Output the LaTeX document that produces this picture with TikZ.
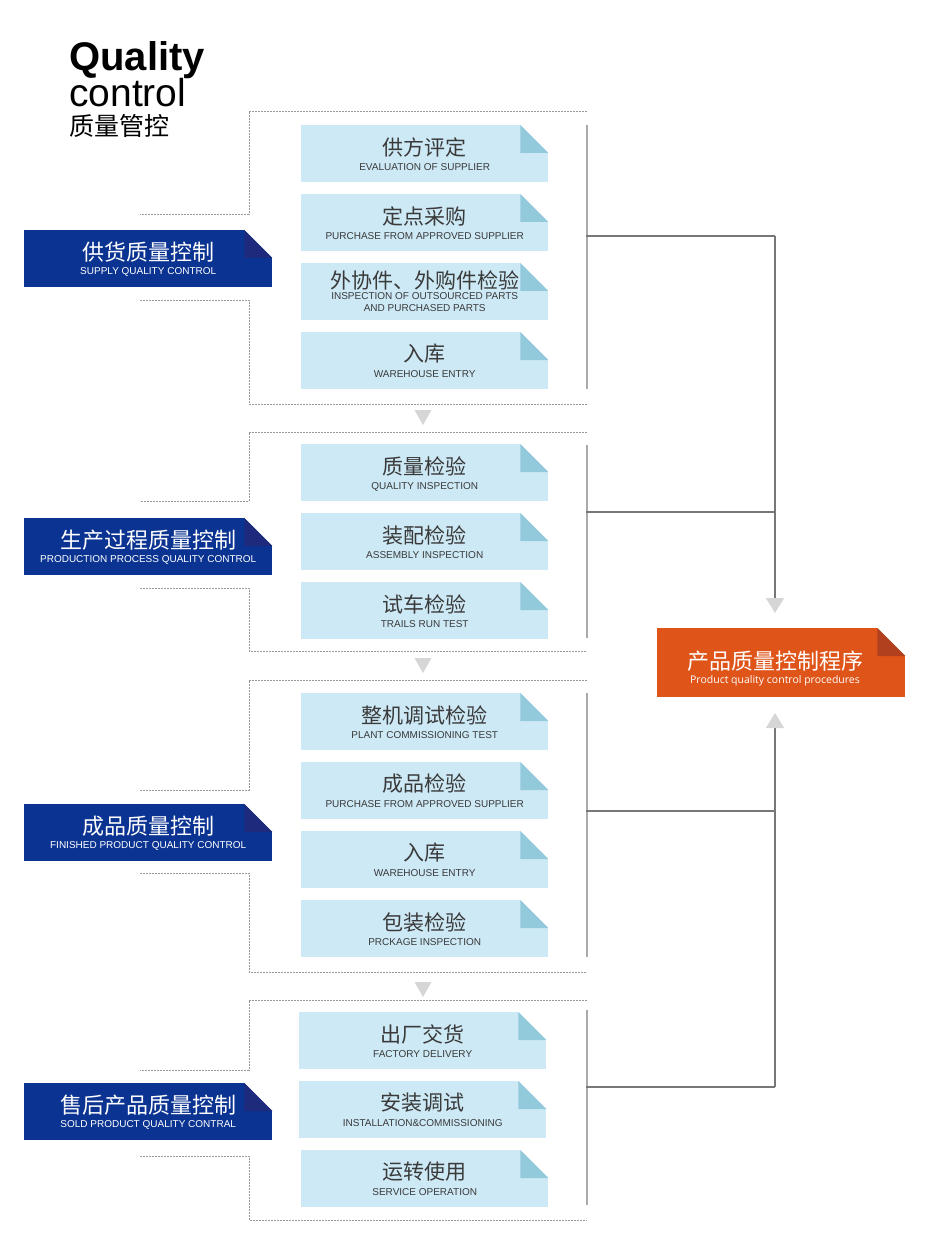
\documentclass[tikz,border=0pt]{standalone}
\usepackage{fontspec}
\setmainfont{Liberation Sans}
\newfontfamily\cjk{Noto Sans CJK SC}
\newfontfamily\osans{Open Sans}
\usetikzlibrary{calc,arrows.meta}
\definecolor{lb}{HTML}{CDE9F5}
\definecolor{lbf}{HTML}{93CADB}
\definecolor{db}{HTML}{0B3391}
\definecolor{dbf}{HTML}{1E2A7C}
\definecolor{og}{HTML}{DF5419}
\definecolor{ogf}{HTML}{B0401E}
\definecolor{tx}{HTML}{3A3A3A}
\definecolor{dotc}{HTML}{999999}
\definecolor{barc}{HTML}{AAAAAA}
\definecolor{conc}{HTML}{777777}
\definecolor{arrc}{HTML}{D6D6D6}
\tikzset{
  cn/.style={font=\cjk\fontsize{21}{21}\selectfont, text=tx, inner sep=0},
  en/.style={font=\fontsize{10}{12}\selectfont, text=tx, inner sep=0, align=center},
  wcn/.style={font=\cjk\fontsize{22}{22}\selectfont, text=white, inner sep=0},
  wen/.style={font=\fontsize{10}{12}\selectfont, text=white, inner sep=0},
  dotl/.style={draw=dotc, line width=0.9pt, dash pattern=on 2pt off 1pt},
  bar/.style={draw=barc, line width=1.8pt},
  conn/.style={draw=conc, line width=1.1pt},
}
% name, x, y(top), width, height, fill, fold
\newcommand\qcfold[7]{%
  \node[anchor=north west, minimum width=#4pt, minimum height=#5pt, inner sep=0, fill=#6] (#1) at (#2,#3) {};
  \fill[white] ([xshift=-28pt]#1.north east) -- ([xshift=1pt,yshift=1pt]#1.north east) -- ([yshift=-28pt]#1.north east) -- cycle;
  \fill[#7] ([xshift=-28pt]#1.north east) -- ([xshift=-28pt,yshift=-28pt]#1.north east) -- ([yshift=-28pt]#1.north east) -- cycle;
}
% light box: name, x, y, chinese, english
\newcommand\qclight[5]{%
  \qcfold{#1}{#2}{#3}{247}{57}{lb}{lbf}
  \node[cn] (#1c) at ($(#1.north)+(0,22)$) {#4};
  \node[en] (#1e) at ($(#1.north)+(0,42.5)$) {#5};
}
\newcommand\qcblue[5]{%
  \qcfold{#1}{#2}{#3}{248}{57}{db}{dbf}
  \node[wcn] (#1c) at ($(#1.north)+(0,22)$) {#4};
  \node[wen] (#1e) at ($(#1.north)+(0,42)$) {#5};
}
\begin{document}
\begin{tikzpicture}[x=1pt,y=-1pt]
\useasboundingbox[fill=white] (0,0) rectangle (940,1246);

% title
\node[inner sep=0, anchor=base west, font=\bfseries\fontsize{40}{40}\selectfont] (t1) at (69,71) {Quality};
\node[inner sep=0, anchor=base west, font=\fontsize{39}{39}\selectfont] (t2) at (69,107) {control};
\node[inner sep=0, anchor=west, font=\cjk\fontsize{25}{25}\selectfont] (t3) at (69,126) {质量管控};

% dotted brackets
\foreach \ta/\ub/\lb/\bt in {111/214/300/404, 432/501/588/651, 680/790/873/972, 1000/1070/1156/1220}{
  \draw[dotl] (587,\ta) -- (249,\ta) -- (249,\ub) -- (140,\ub);
  \draw[dotl] (140,\lb) -- (249,\lb) -- (249,\bt) -- (587,\bt);
}

% group 1
\qclight{b11}{301}{125}{供方评定}{EVALUATION OF SUPPLIER}
\qclight{b12}{301}{194}{定点采购}{PURCHASE FROM APPROVED SUPPLIER}
\qcfold{b13}{301}{263}{247}{57}{lb}{lbf}
\node[cn] (b13c) at ($(b13.north)+(0,17)$) {外协件、外购件检验};
\node[en, font=\fontsize{10}{12}\selectfont] (b13e) at ($(b13.north)+(0,39.5)$) {INSPECTION OF OUTSOURCED PARTS\\AND PURCHASED PARTS};
\qclight{b14}{301}{332}{入库}{WAREHOUSE ENTRY}
% group 2
\qclight{b21}{301}{444}{质量检验}{QUALITY INSPECTION}
\qclight{b22}{301}{513}{装配检验}{ASSEMBLY INSPECTION}
\qclight{b23}{301}{582}{试车检验}{TRAILS RUN TEST}
% group 3
\qclight{b31}{301}{693}{整机调试检验}{PLANT COMMISSIONING TEST}
\qclight{b32}{301}{762}{成品检验}{PURCHASE FROM APPROVED SUPPLIER}
\qclight{b33}{301}{831}{入库}{WAREHOUSE ENTRY}
\qclight{b34}{301}{900}{包装检验}{PRCKAGE INSPECTION}
% group 4
\qclight{b41}{299}{1012}{出厂交货}{FACTORY DELIVERY}
\qclight{b42}{299}{1081}{安装调试}{INSTALLATION\&COMMISSIONING}
\qclight{b43}{301}{1150}{运转使用}{SERVICE OPERATION}

% blue boxes
\qcblue{B1}{24}{230}{供货质量控制}{SUPPLY QUALITY CONTROL}
\qcblue{B2}{24}{518}{生产过程质量控制}{PRODUCTION PROCESS QUALITY CONTROL}
\qcblue{B3}{24}{804}{成品质量控制}{FINISHED PRODUCT QUALITY CONTROL}
\qcblue{B4}{24}{1083}{售后产品质量控制}{SOLD PRODUCT QUALITY CONTRAL}

% orange box
\qcfold{P}{657}{628}{248}{69}{og}{ogf}
\node[wcn] (Pc) at (775,661.5) {产品质量控制程序};
\node[inner sep=0, text=white, font=\osans\fontsize{10.5}{12}\selectfont] (Pe) at (775,681) {Product quality control procedures};

% bars
\coordinate (v1t) at (587,125); \coordinate (v1b) at (587,389);
\coordinate (v2t) at (587,445); \coordinate (v2b) at (587,638);
\coordinate (v3t) at (587,693); \coordinate (v3b) at (587,957);
\coordinate (v4t) at (587,1010); \coordinate (v4b) at (587,1205);
\draw[bar] (v1t) -- (v1b);
\draw[bar] (v2t) -- (v2b);
\draw[bar] (v3t) -- (v3b);
\draw[bar] (v4t) -- (v4b);

% connectors
\coordinate (h1) at (586,236); \coordinate (j1) at (775,236);
\coordinate (h2) at (586,512); \coordinate (j2) at (775,512);
\coordinate (h3) at (586,811); \coordinate (j3) at (775,811);
\coordinate (h4) at (586,1087); \coordinate (j4) at (775,1087);
\coordinate (ta) at (775,613); \coordinate (tb) at (775,713);
\draw[conn] (h1) -- (j1);
\draw[conn] (h2) -- (j2);
\draw[conn] (h3) -- (j3);
\draw[conn] (h4) -- (j4);
\draw[conn, -{Triangle[width=18pt,length=15pt,color=arrc]}] (j1) -- (ta);
\draw[conn, -{Triangle[width=18pt,length=15pt,color=arrc]}] (j4) -- (tb);

% arrows between groups
\foreach \yy in {410,658,982}{
  \fill[arrc] (414.5,\yy) -- (431.5,\yy) -- (423,\yy+15) -- cycle;
}
\end{tikzpicture}
\end{document}
